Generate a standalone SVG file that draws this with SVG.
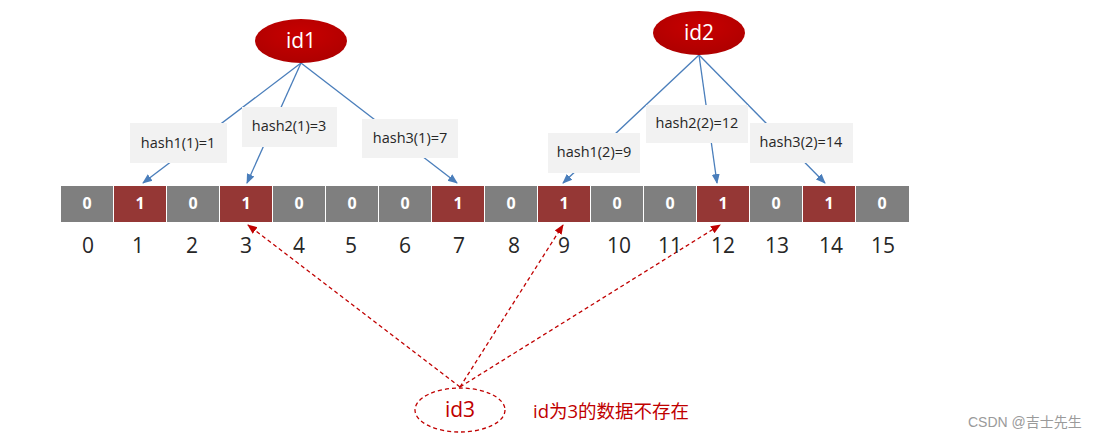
<svg xmlns="http://www.w3.org/2000/svg" width="1119" height="444" viewBox="0 0 1119 444">
<defs>
<marker id="ab" markerWidth="10" markerHeight="10" refX="9" refY="5" orient="auto" markerUnits="userSpaceOnUse"><path d="M0,1 L10,5 L0,9 Z" fill="#4a7ebb"/></marker>
<marker id="ar" markerWidth="10" markerHeight="10" refX="9" refY="5" orient="auto" markerUnits="userSpaceOnUse"><path d="M0,1 L10,5 L0,9 Z" fill="#c00000"/></marker>
<radialGradient id="rg" cx="50%" cy="35%" r="60%"><stop offset="0" stop-color="#c80000"/><stop offset="1" stop-color="#b00000"/></radialGradient>
</defs>
<style>
.c0{fill:#7f7f7f}
.c1{fill:#953735}
.ct{font-family:"Open Sans","Noto Sans",sans-serif;font-size:16px;font-weight:bold;fill:#fff;text-anchor:middle}
.num{font-family:"Open Sans","Noto Sans",sans-serif;font-size:21px;fill:#262626;text-anchor:middle}
.box{fill:#f2f2f2}
.bt{font-family:"Open Sans","Noto Sans",sans-serif;font-size:14.5px;fill:#262626;text-anchor:middle}
.bl{stroke:#4a7ebb;stroke-width:1.3;fill:none}
.rl{stroke:#c00000;stroke-width:1.3;stroke-dasharray:4,3;fill:none}
.et{font-family:"Open Sans","Noto Sans",sans-serif;font-size:21px;fill:#fff;text-anchor:middle}
</style>
<rect width="1119" height="444" fill="#fff"/>
<g id="connectors">
<line class="bl" x1="301" y1="63" x2="143" y2="183" marker-end="url(#ab)"/>
<line class="bl" x1="301" y1="63" x2="247" y2="183" marker-end="url(#ab)"/>
<line class="bl" x1="301" y1="63" x2="457" y2="183" marker-end="url(#ab)"/>
<line class="bl" x1="699" y1="55" x2="563" y2="183" marker-end="url(#ab)"/>
<line class="bl" x1="699" y1="55" x2="717" y2="183" marker-end="url(#ab)"/>
<line class="bl" x1="699" y1="55" x2="825" y2="183" marker-end="url(#ab)"/>
<line class="rl" x1="460" y1="387" x2="248" y2="225" marker-end="url(#ar)"/>
<line class="rl" x1="460" y1="387" x2="563" y2="225" marker-end="url(#ar)"/>
<line class="rl" x1="460" y1="387" x2="720" y2="225" marker-end="url(#ar)"/>
</g>
<g id="array">
<rect class="c0" x="61" y="186" width="52" height="36"/>
<rect class="c1" x="114" y="186" width="52" height="36"/>
<rect class="c0" x="167" y="186" width="52" height="36"/>
<rect class="c1" x="220" y="186" width="52" height="36"/>
<rect class="c0" x="273" y="186" width="52" height="36"/>
<rect class="c0" x="326" y="186" width="52" height="36"/>
<rect class="c0" x="379" y="186" width="52" height="36"/>
<rect class="c1" x="432" y="186" width="52" height="36"/>
<rect class="c0" x="485" y="186" width="52" height="36"/>
<rect class="c1" x="538" y="186" width="52" height="36"/>
<rect class="c0" x="591" y="186" width="52" height="36"/>
<rect class="c0" x="644" y="186" width="52" height="36"/>
<rect class="c1" x="697" y="186" width="52" height="36"/>
<rect class="c0" x="750" y="186" width="52" height="36"/>
<rect class="c1" x="803" y="186" width="52" height="36"/>
<rect class="c0" x="856" y="186" width="53" height="36"/>
<text class="ct" x="87" y="209">0</text>
<text class="ct" x="140" y="209">1</text>
<text class="ct" x="193" y="209">0</text>
<text class="ct" x="246" y="209">1</text>
<text class="ct" x="299" y="209">0</text>
<text class="ct" x="352" y="209">0</text>
<text class="ct" x="405" y="209">0</text>
<text class="ct" x="458" y="209">1</text>
<text class="ct" x="511" y="209">0</text>
<text class="ct" x="564" y="209">1</text>
<text class="ct" x="617" y="209">0</text>
<text class="ct" x="670" y="209">0</text>
<text class="ct" x="723" y="209">1</text>
<text class="ct" x="776" y="209">0</text>
<text class="ct" x="829" y="209">1</text>
<text class="ct" x="882" y="209">0</text>
<text class="num" x="88" y="253">0</text>
<text class="num" x="138" y="253">1</text>
<text class="num" x="192" y="253">2</text>
<text class="num" x="246" y="253">3</text>
<text class="num" x="299" y="253">4</text>
<text class="num" x="351" y="253">5</text>
<text class="num" x="405" y="253">6</text>
<text class="num" x="459" y="253">7</text>
<text class="num" x="514" y="253">8</text>
<text class="num" x="564" y="253">9</text>
<text class="num" x="619" y="253">10</text>
<text class="num" x="670" y="253">11</text>
<text class="num" x="723" y="253">12</text>
<text class="num" x="777" y="253">13</text>
<text class="num" x="831" y="253">14</text>
<text class="num" x="883" y="253">15</text>
</g>
<g id="hash1-1"><rect class="box" x="130" y="123" width="97" height="40"/><text class="bt" x="178" y="148">hash1(1)=1</text></g>
<g id="hash2-1"><rect class="box" x="242" y="107" width="95" height="40"/><text class="bt" x="289" y="131">hash2(1)=3</text></g>
<g id="hash3-1"><rect class="box" x="362" y="119" width="96" height="39"/><text class="bt" x="410" y="143">hash3(1)=7</text></g>
<g id="hash1-2"><rect class="box" x="548" y="133" width="92" height="40"/><text class="bt" x="594" y="157">hash1(2)=9</text></g>
<g id="hash2-2"><rect class="box" x="646" y="105" width="102" height="38"/><text class="bt" x="697" y="128">hash2(2)=12</text></g>
<g id="hash3-2"><rect class="box" x="750" y="123" width="103" height="40"/><text class="bt" x="801" y="147">hash3(2)=14</text></g>
<g id="id1"><ellipse cx="301" cy="41" rx="46" ry="22" fill="url(#rg)"/><text class="et" x="301" y="48">id1</text></g>
<g id="id2"><ellipse cx="699" cy="33" rx="46" ry="22" fill="url(#rg)"/><text class="et" x="699" y="40">id2</text></g>
<g id="id3"><ellipse cx="460" cy="410" rx="45" ry="22" fill="none" stroke="#c00000" stroke-width="1.3" stroke-dasharray="4,3"/><text class="et" x="460" y="417" style="fill:#c00000">id3</text></g>
<text x="533" y="418" font-family="'Open Sans','Noto Sans CJK SC',sans-serif" font-size="18.5" fill="#c00000">id为3的数据不存在</text>
<text x="968" y="427" font-family="'Liberation Sans','Noto Sans CJK SC',sans-serif" font-size="14" fill="#9a9a9a">CSDN @吉士先生</text>
</svg>
